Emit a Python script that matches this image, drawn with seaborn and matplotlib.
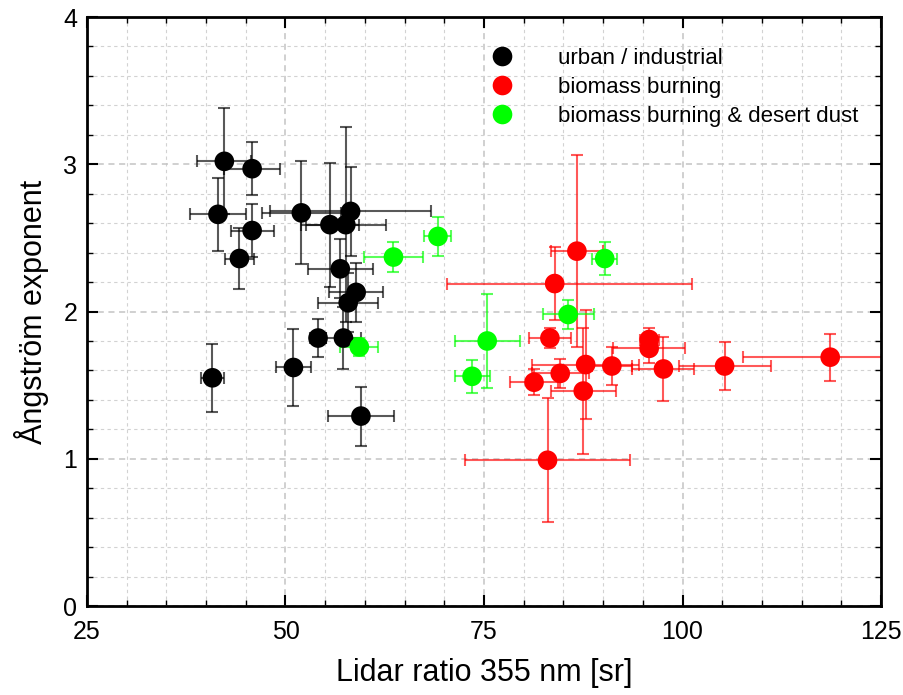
import numpy as np
import pandas as pd
import matplotlib
matplotlib.use('Agg')
import matplotlib.pyplot as plt
import seaborn as sns
from matplotlib import font_manager
from matplotlib.ticker import MultipleLocator

# urban / industrial
ui_x = [42.3, 45.8, 41.5, 45.8, 44.2, 52.0, 55.6, 57.6, 58.2, 56.9, 58.9, 57.9, 54.1, 57.3, 40.8, 51.0, 59.5]
ui_y = [3.02, 2.97, 2.66, 2.55, 2.36, 2.67, 2.59, 2.59, 2.68, 2.29, 2.13, 2.06, 1.82, 1.82, 1.55, 1.62, 1.29]
ui_xerr = [3.4, 3.5, 3.5, 2.7, 1.8, 5.0, 3.6, 5.0, 10.1, 4.1, 3.4, 3.8, 1.0, 2.2, 1.5, 2.2, 4.2]
ui_yerr = [0.36, 0.18, 0.25, 0.18, 0.21, 0.35, 0.42, 0.66, 0.30, 0.20, 0.20, 0.20, 0.13, 0.21, 0.23, 0.26, 0.20]

# biomass burning
bb_x = [86.7, 83.9, 83.3, 81.3, 84.6, 87.8, 87.5, 91.1, 95.8, 95.8, 97.6, 105.3, 118.6, 83.0]
bb_y = [2.41, 2.19, 1.82, 1.52, 1.58, 1.64, 1.46, 1.63, 1.81, 1.75, 1.61, 1.63, 1.69, 0.99]
bb_xerr_lo = [3.3, 13.6, 2.6, 3.0, 3.6, 6.7, 4.1, 2.5, 1.2, 4.5, 3.9, 5.8, 11.0, 10.4]
bb_xerr_hi = [3.3, 17.3, 2.6, 3.0, 3.6, 6.7, 4.1, 2.5, 1.2, 4.5, 3.9, 5.8, 11.0, 10.4]
bb_yerr = [0.65, 0.25, 0.07, 0.09, 0.10, 0.37, 0.43, 0.13, 0.08, 0.10, 0.22, 0.16, 0.16, 0.42]

# biomass burning & desert dust
dd_x = [63.6, 69.2, 59.3, 75.4, 73.5, 85.6, 90.2]
dd_y = [2.37, 2.51, 1.76, 1.80, 1.56, 1.98, 2.36]
dd_xerr = [3.7, 1.7, 2.4, 4.1, 2.2, 3.2, 1.6]
dd_yerr = [0.10, 0.13, 0.06, 0.32, 0.11, 0.10, 0.11]

labels = ['urban / industrial', 'biomass burning', 'biomass burning & desert dust']
colors = ['#000000', '#ff0000', '#00ff00']

df = pd.DataFrame({
    'lr': ui_x + bb_x + dd_x,
    'ae': ui_y + bb_y + dd_y,
    'type': [labels[0]] * len(ui_x) + [labels[1]] * len(bb_x) + [labels[2]] * len(dd_x),
})

sns.set_style('ticks')
plt.rcParams['font.family'] = ['Liberation Sans', 'DejaVu Sans']
plt.rcParams['text.color'] = 'black'
plt.rcParams['axes.labelcolor'] = 'black'
plt.rcParams['xtick.color'] = 'black'
plt.rcParams['ytick.color'] = 'black'
names = {f.name for f in font_manager.fontManager.ttflist}
narrow = 'Liberation Sans Narrow' if 'Liberation Sans Narrow' in names else 'Liberation Sans'

fig = plt.figure(figsize=(9.04, 6.95), dpi=100)
ax = fig.add_axes([0.0962, 0.128, 0.8784, 0.8475])

# error bars
ebar = dict(fmt='none', elinewidth=1.5, capsize=4, capthick=1.5, alpha=0.65, zorder=2)
ax.errorbar(ui_x, ui_y, xerr=ui_xerr, yerr=ui_yerr, ecolor=colors[0], **ebar)
ax.errorbar(bb_x, bb_y, xerr=[bb_xerr_lo, bb_xerr_hi], yerr=bb_yerr, ecolor=colors[1], **ebar)
ax.errorbar(dd_x, dd_y, xerr=dd_xerr, yerr=dd_yerr, ecolor=colors[2], **ebar)

sns.scatterplot(data=df, x='lr', y='ae', hue='type', hue_order=labels,
                palette=colors, s=200, linewidth=0, alpha=1, zorder=3, ax=ax)

ax.set_xlim(25, 125)
ax.set_ylim(0, 4)
ax.xaxis.set_major_locator(MultipleLocator(25))
ax.xaxis.set_minor_locator(MultipleLocator(5))
ax.yaxis.set_major_locator(MultipleLocator(1))
ax.yaxis.set_minor_locator(MultipleLocator(0.2))

ax.grid(which='minor', color='#d2d2d2', linestyle=(0, (3, 3)), linewidth=0.8, zorder=0)
ax.grid(which='major', color='#c4c4c4', linestyle=(0, (4, 3)), linewidth=1.1, zorder=0)
ax.set_axisbelow(True)

ax.tick_params(which='both', direction='in', top=True, right=True, color='black')
ax.tick_params(which='major', length=8, width=1.5)
ax.tick_params(which='minor', length=4, width=1.0)
ax.tick_params(axis='y', labelsize=18, pad=7)
ax.tick_params(axis='x', labelsize=18, pad=10)
for lab in ax.get_xticklabels():
    lab.set_family(narrow)
for s in ax.spines.values():
    s.set_linewidth(2)
    s.set_color('black')

ax.set_xlabel('Lidar ratio 355 nm [sr]', fontsize=22, family=narrow, labelpad=10)
ax.set_ylabel('Ångström exponent', fontsize=22, labelpad=10)

sns.move_legend(ax, 'upper left', bbox_to_anchor=(0.492, 0.97), frameon=False, title=None,
                fontsize=16, handlelength=1.0, handletextpad=2.0, labelspacing=0.35,
                borderaxespad=0.2)

fig.savefig('out.png', dpi=100)
